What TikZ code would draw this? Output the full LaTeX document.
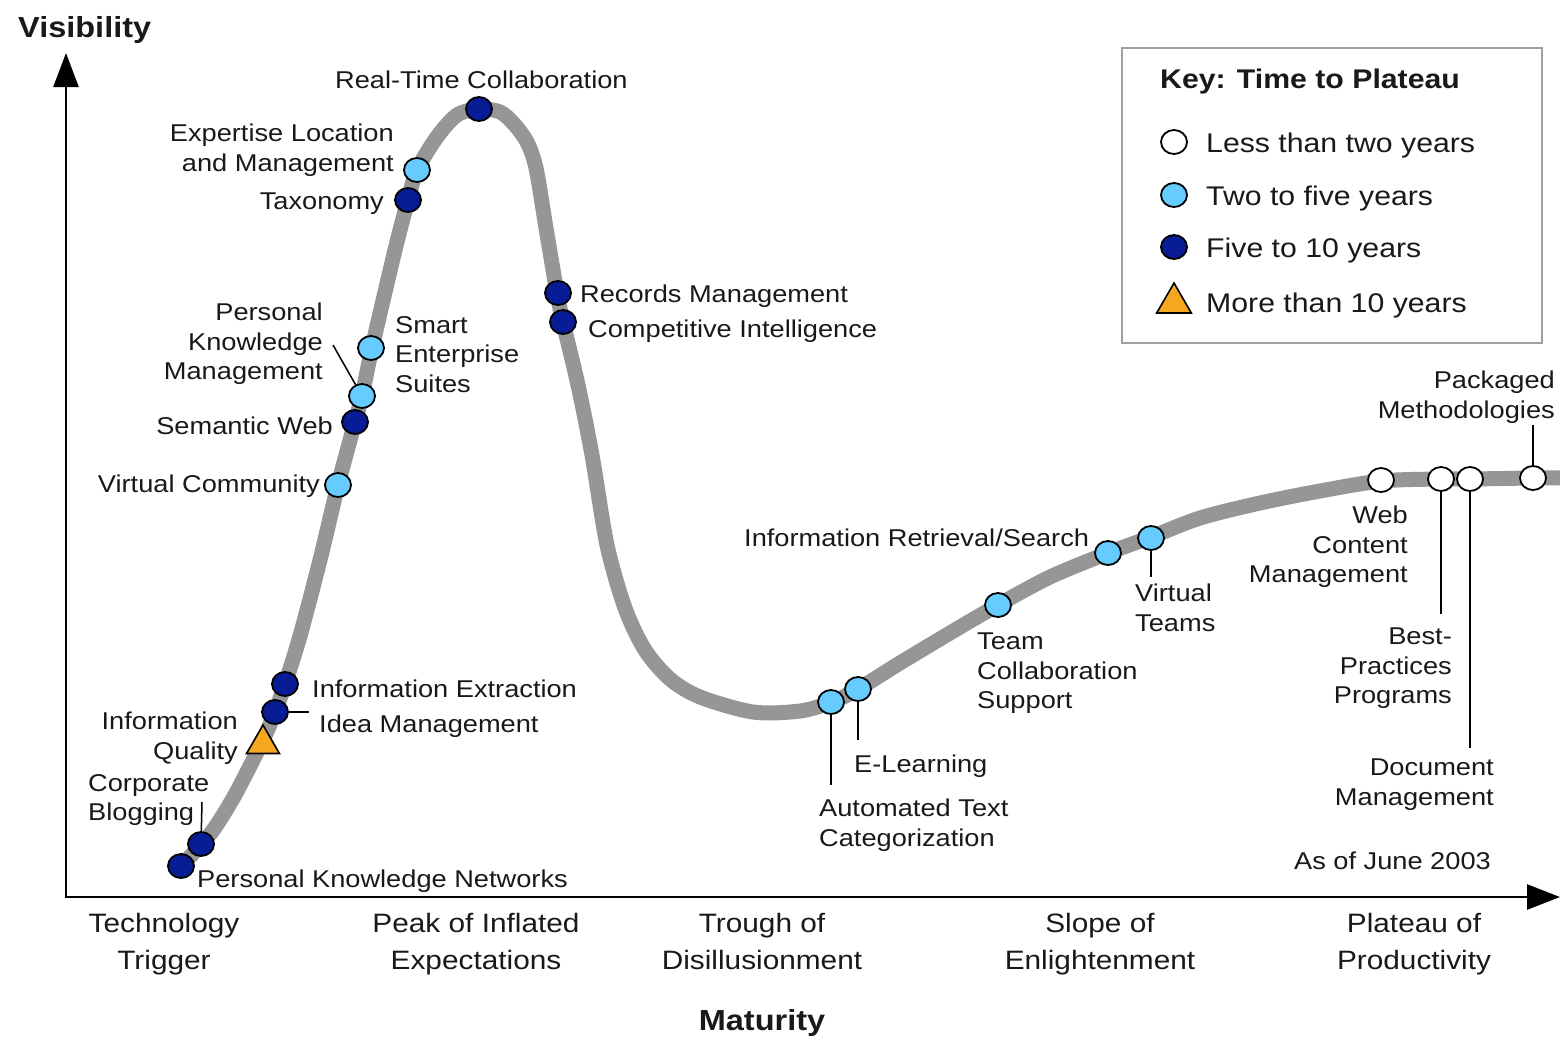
\documentclass[tikz,border=0pt]{standalone}
\usepackage{fontspec}
\setmainfont{Liberation Sans}[FakeStretch=1.12]
\usetikzlibrary{shapes.geometric,arrows.meta}
\definecolor{curveGray}{RGB}{150,150,150}
\definecolor{keyGray}{RGB}{160,160,160}
\definecolor{mkLight}{RGB}{102,204,255}
\definecolor{mkDark}{RGB}{8,28,150}
\definecolor{mkOrange}{RGB}{245,168,30}
\definecolor{txt}{RGB}{25,25,25}
\newcommand\lblfont{\fontsize{24.3}{29.5}\selectfont}
\newcommand\phasefont{\fontsize{26.6}{37}\selectfont}
\newcommand\keyfont{\fontsize{27}{32}\selectfont}
\newcommand\titlefont{\fontsize{29}{34}\selectfont\bfseries}
\begin{document}
\begin{tikzpicture}[x=1pt,y=-1pt,
  mk/.style={ellipse, draw=black, line width=1.8pt, minimum width=26pt, minimum height=24pt, inner sep=0pt},
  light/.style={mk, fill=mkLight},
  dark/.style={mk, fill=mkDark},
  blank/.style={mk, fill=white},
  tri/.style={regular polygon, regular polygon sides=3, draw=black, line width=1.6pt, fill=mkOrange, minimum size=38pt, inner sep=0pt},
  lbl/.style={font=\lblfont, inner sep=0pt, text=txt},
  lblR/.style={lbl, align=right},
  lblL/.style={lbl, align=left},
  phase/.style={font=\phasefont, inner sep=0pt, text=txt, align=center, anchor=north},
  keytxt/.style={font=\keyfont, inner sep=0pt, text=txt, anchor=base west},
  conn/.style={draw=black, line width=1.5pt},
  axis/.style={draw=black, line width=2.5pt, {Triangle[length=34pt,width=25pt]}-{Triangle[length=33pt,width=25pt]}}
]
\useasboundingbox (0,0) rectangle (1560,1037);
\fill[white] (0,0) rectangle (1560,1037);

% axes
\coordinate (ytip) at (66,53);
\coordinate (O) at (66,897);
\coordinate (xtip) at (1560,897);
\draw[axis] (ytip) -- (O) -- (xtip);
\node[font=\titlefont, inner sep=0pt, anchor=base west, text=txt] (vis) at (18,37) {Visibility};
\node[font=\titlefont, inner sep=0pt, anchor=base, text=txt] (mat) at (762,1030) {Maturity};

% hype curve
\draw[curveGray, line width=15pt] plot[smooth, tension=0.5] coordinates {
 (181,866) (201,845) (216,826) (236,793) (263,740) (275,712) (285,684)
 (300,636) (320,560) (338,485) (355,422) (362,396) (372,348) (395,250)
 (408,200) (417,170) (437,137) (457,115) (479,109) (500,112) (514,124)
 (527,142) (536,168) (546,228) (557,293) (563,322) (578,385) (592,455)
 (607,545) (625,608) (645,650) (670,679) (700,697) (753,712) (800,711)
 (832,702) (858,689) (900,663) (950,633) (998,605) (1050,577) (1108,553)
 (1151,537) (1200,518) (1260,503) (1320,491) (1381,481) (1440,479)
 (1470,479) (1533,478) (1565,478)};

% markers
\node[dark]  (m-pkn) at (181,866) {};
\node[dark]  (m-cb)  at (201,844) {};
\node[tri]   (m-iq)  at (263,744) {};
\node[dark]  (m-im)  at (275,712) {};
\node[dark]  (m-ie)  at (285,684) {};
\node[light] (m-vc)  at (338,485) {};
\node[dark]  (m-sw)  at (355,422) {};
\node[light] (m-pkm) at (362,396) {};
\node[light] (m-ses) at (371,348) {};
\node[dark]  (m-tax) at (408,200) {};
\node[light] (m-elm) at (417,170) {};
\node[dark]  (m-rtc) at (479,109) {};
\node[dark]  (m-rm)  at (558,293) {};
\node[dark]  (m-ci)  at (563,322) {};
\node[light] (m-atc) at (831,702) {};
\node[light] (m-el)  at (858,689) {};
\node[light] (m-tcs) at (998,605) {};
\node[light] (m-irs) at (1108,553) {};
\node[light] (m-vt)  at (1151,538) {};
\node[blank] (m-wcm) at (1381,480) {};
\node[blank] (m-bp)  at (1441,479) {};
\node[blank] (m-dm)  at (1470,479) {};
\node[blank] (m-pm)  at (1533,478) {};

% connector ends
\coordinate (c-cb)  at (202,802);
\coordinate (c-im)  at (309,712);
\coordinate (c-pkm) at (333,345);
\coordinate (c-vt)  at (1151,577);
\coordinate (c-el)  at (858,740);
\coordinate (c-atc) at (831,785);
\coordinate (c-bp)  at (1441,614);
\coordinate (c-dm)  at (1470,748);
\coordinate (c-pm)  at (1533,425);
\draw[conn] (m-cb) -- (c-cb);
\draw[conn] (m-im) -- (c-im);
\draw[conn] (m-pkm) -- (c-pkm);
\draw[conn] (m-vt) -- (c-vt);
\draw[conn] (m-el) -- (c-el);
\draw[conn] (m-atc) -- (c-atc);
\draw[conn] (m-bp) -- (c-bp);
\draw[conn] (m-dm) -- (c-dm);
\draw[conn] (m-pm) -- (c-pm);

% labels
\node[lbl, anchor=base west] (l-rtc) at (335,88) {Real-Time Collaboration};
\node[lblR, anchor=north east] (l-elm) at (394,124) {Expertise Location\\and Management};
\node[lbl, anchor=base east] (l-tax) at (384,209) {Taxonomy};
\node[lblR, anchor=north east] (l-pkm) at (323,303) {Personal\\Knowledge\\Management};
\node[lblL, anchor=north west] (l-ses) at (395,316) {Smart\\Enterprise\\Suites};
\node[lbl, anchor=base east] (l-sw) at (333,434) {Semantic Web};
\node[lbl, anchor=base east] (l-vc) at (320,492) {Virtual Community};
\node[lbl, anchor=base west] (l-rm) at (580,302) {Records Management};
\node[lbl, anchor=base west] (l-ci) at (588,337) {Competitive Intelligence};
\node[lbl, anchor=base west] (l-ie) at (312,697) {Information Extraction};
\node[lbl, anchor=base west] (l-im) at (319,732) {Idea Management};
\node[lblR, anchor=north east] (l-iq) at (238,712) {Information\\Quality};
\node[lblL, anchor=north west] (l-cb) at (88,774) {Corporate\\Blogging};
\node[lbl, anchor=base west] (l-pkn) at (197,887) {Personal Knowledge Networks};
\node[lbl, anchor=base west] (l-irs) at (744,546) {Information Retrieval/Search};
\node[lblL, anchor=north west] (l-tcs) at (977,633) {Team\\Collaboration\\Support};
\node[lblL, anchor=north west] (l-vt) at (1135,584) {Virtual\\Teams};
\node[lbl, anchor=base west] (l-el) at (854,772) {E-Learning};
\node[lblL, anchor=north west] (l-atc) at (819,799) {Automated Text\\Categorization};
\node[lblR, anchor=north east] (l-wcm) at (1408,506) {Web\\Content\\Management};
\node[lblR, anchor=north east] (l-bp) at (1452,628) {Best-\\Practices\\Programs};
\node[lblR, anchor=north east] (l-dm) at (1494,759) {Document\\Management};
\node[lblR, anchor=north east] (l-pm) at (1555,371) {Packaged\\Methodologies};
\node[lbl, anchor=base east] (l-date) at (1491,869) {As of June 2003};

% phases
\node[phase] (p1) at (164,913) {Technology\\Trigger};
\node[phase] (p2) at (476,913) {Peak of Inflated\\Expectations};
\node[phase] (p3) at (762,913) {Trough of\\Disillusionment};
\node[phase] (p4) at (1100,913) {Slope of\\Enlightenment};
\node[phase] (p5) at (1414,913) {Plateau of\\Productivity};

% key
\node[draw=keyGray, line width=2pt, minimum width=420pt, minimum height=295pt, inner sep=0pt] (keybox) at (1332,195.5) {};
\node[font=\keyfont\bfseries, inner sep=0pt, text=txt, anchor=base west] (ktitle) at (1160,88) {Key: Time to Plateau};
\node[blank] (k1) at (1174,142) {};
\node[light] (k2) at (1174,195) {};
\node[dark]  (k3) at (1174,247) {};
\node[tri, minimum size=40pt] (k4) at (1174,303) {};
\node[keytxt] (kt1) at (1206,152) {Less than two years};
\node[keytxt] (kt2) at (1206,205) {Two to five years};
\node[keytxt] (kt3) at (1206,257) {Five to 10 years};
\node[keytxt] (kt4) at (1206,312) {More than 10 years};
\end{tikzpicture}
\end{document}
